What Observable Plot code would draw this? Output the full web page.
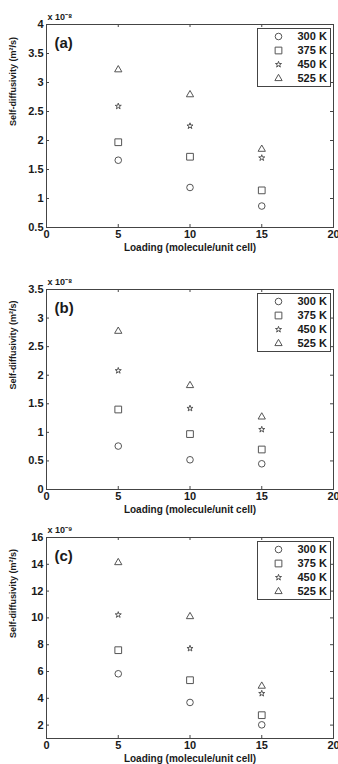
<!DOCTYPE html>
<html><head><meta charset="utf-8">
<script src="https://cdn.jsdelivr.net/npm/d3@7"></script>
<script src="https://cdn.jsdelivr.net/npm/@observablehq/plot@0.6"></script>
<style>
body{margin:0;background:#fff;width:338px;overflow:hidden}
.panel{position:relative;width:338px}
.panel svg{display:block}
.legend{position:absolute;border:1px solid #444;background:#fff;line-height:0}
</style></head><body><div id="root"></div>
<script>
// ---- data ----
const loadings = [5, 10, 15];
const temps = ["300 K", "375 K", "450 K", "525 K"];
const xTicks = [0, 5, 10, 15, 20];
const xLabel = "Loading (molecule/unit cell)";
const yLabel = "Self-diffusivity (m\u00b2/s)";

// panel (a), units of 10^-8 m^2/s
const a300 = [1.66, 1.19, 0.87];
const a375 = [1.97, 1.72, 1.14];
const a450 = [2.59, 2.25, 1.70];
const a525 = [3.22, 2.79, 1.85];
const aTicks = [0.5, 1, 1.5, 2, 2.5, 3, 3.5, 4];

// panel (b), units of 10^-8 m^2/s
const b300 = [0.76, 0.52, 0.45];
const b375 = [1.40, 0.97, 0.70];
const b450 = [2.08, 1.42, 1.05];
const b525 = [2.77, 1.82, 1.27];
const bTicks = [0, 0.5, 1, 1.5, 2, 2.5, 3, 3.5];

// panel (c), units of 10^-9 m^2/s
const c300 = [5.83, 3.69, 2.02];
const c375 = [7.59, 5.35, 2.74];
const c450 = [10.23, 7.72, 4.36];
const c525 = [14.13, 10.1, 4.91];
const cTicks = [2, 4, 6, 8, 10, 12, 14, 16];

// ---- styles ----
const symbolRange = ["circle", "square", "star", "triangle"];
const rBySymbol = {circle: 3.3, square: 3.8, star: 1.9, triangle: 2.7};
const ink = "#555";
const axisInk = "#444";
const font = "'Liberation Sans', Arial, Helvetica, sans-serif";

function rowsOf(series) {
  const rows = [];
  series.forEach((vals, i) => vals.forEach((v, j) => rows.push({loading: loadings[j], value: v, temp: temps[i]})));
  return rows;
}
const rOf = t => rBySymbol[symbolRange[temps.indexOf(t)]];

function panel(cfg) {
  const W = 338, ml = 46, mr = 5;
  const {height, mt, mb} = cfg;
  const pw = W - ml - mr, ph = height - mt - mb;
  const div = document.createElement("div");
  div.className = "panel";
  div.style.height = height + "px";
  const chart = Plot.plot({
    width: W, height, marginLeft: ml, marginRight: mr, marginTop: mt, marginBottom: mb,
    style: {fontFamily: font, fontWeight: "bold", fontSize: "11px", color: "#1a1a1a", background: "#fff", overflow: "visible"},
    x: {domain: [0, 20]},
    y: {domain: cfg.domain},
    symbol: {domain: temps, range: symbolRange},
    r: {type: "identity"},
    marks: [
      Plot.frame({stroke: axisInk}),
      Plot.tickY(cfg.ticks, {y: d => d, insetRight: pw - 3, stroke: axisInk}),
      Plot.tickY(cfg.ticks, {y: d => d, insetLeft: pw - 3, stroke: axisInk}),
      Plot.tickX(xTicks, {x: d => d, insetTop: ph - 3, stroke: axisInk}),
      Plot.tickX(xTicks, {x: d => d, insetBottom: ph - 3, stroke: axisInk}),
      Plot.axisX(xTicks, {tickSize: 0, tickPadding: 3, label: null, tickFormat: d => String(d)}),
      Plot.axisY(cfg.ticks, {tickSize: 0, tickPadding: 3, label: null, tickFormat: d => String(d)}),
      Plot.dot(rowsOf(cfg.series), {x: "loading", y: "value", symbol: "temp", r: d => rOf(d.temp), stroke: ink, strokeWidth: 1, fill: "none"}),
      Plot.text([xLabel], {text: d => d, frameAnchor: "bottom", dy: 20, lineAnchor: "middle", fontSize: 10}),
      Plot.text([yLabel], {text: d => d, frameAnchor: "left", rotate: -90, dx: -33, lineAnchor: "middle", fontSize: 9}),
      Plot.text([cfg.exp], {text: d => d, frameAnchor: "top-left", textAnchor: "start", dx: 1, dy: -7, lineAnchor: "middle", fontSize: 9}),
      Plot.text([cfg.letter], {text: d => d, frameAnchor: "top-left", textAnchor: "start", dx: 8, dy: 19, lineAnchor: "middle", fontSize: 15})
    ]
  });
  div.appendChild(chart);
  const leg = Plot.plot({
    width: 72, height: 57, marginLeft: 0, marginRight: 0, marginTop: 7, marginBottom: 8,
    style: {fontFamily: font, fontWeight: "bold", fontSize: "11px", color: "#1a1a1a", background: "#fff"},
    x: {axis: null, domain: [0, 1]},
    y: {type: "point", domain: temps, padding: 0, axis: null},
    symbol: {domain: temps, range: symbolRange},
    r: {type: "identity"},
    marks: [
      Plot.dot(temps, {y: d => d, symbol: d => d, r: d => rOf(d), frameAnchor: "left", dx: 20, stroke: ink, strokeWidth: 1, fill: "none"}),
      Plot.text(temps, {y: d => d, text: d => d, frameAnchor: "left", dx: 39, textAnchor: "start", lineAnchor: "middle"})
    ]
  });
  const ld = document.createElement("div");
  ld.className = "legend";
  ld.style.left = "257px";
  ld.style.top = (mt + 4) + "px";
  ld.appendChild(leg);
  div.appendChild(ld);
  return div;
}

const root = document.getElementById("root");
root.appendChild(panel({height: 255, mt: 24, mb: 28, domain: [0.5, 4], ticks: aTicks, series: [a300, a375, a450, a525], exp: "x 10\u207b\u2078", letter: "(a)"}));
root.appendChild(panel({height: 260, mt: 34, mb: 26, domain: [0, 3.5], ticks: bTicks, series: [b300, b375, b450, b525], exp: "x 10\u207b\u2078", letter: "(b)"}));
root.appendChild(panel({height: 249, mt: 22, mb: 26, domain: [1, 16], ticks: cTicks, series: [c300, c375, c450, c525], exp: "x 10\u207b\u2079", letter: "(c)"}));
</script>
</body></html>
